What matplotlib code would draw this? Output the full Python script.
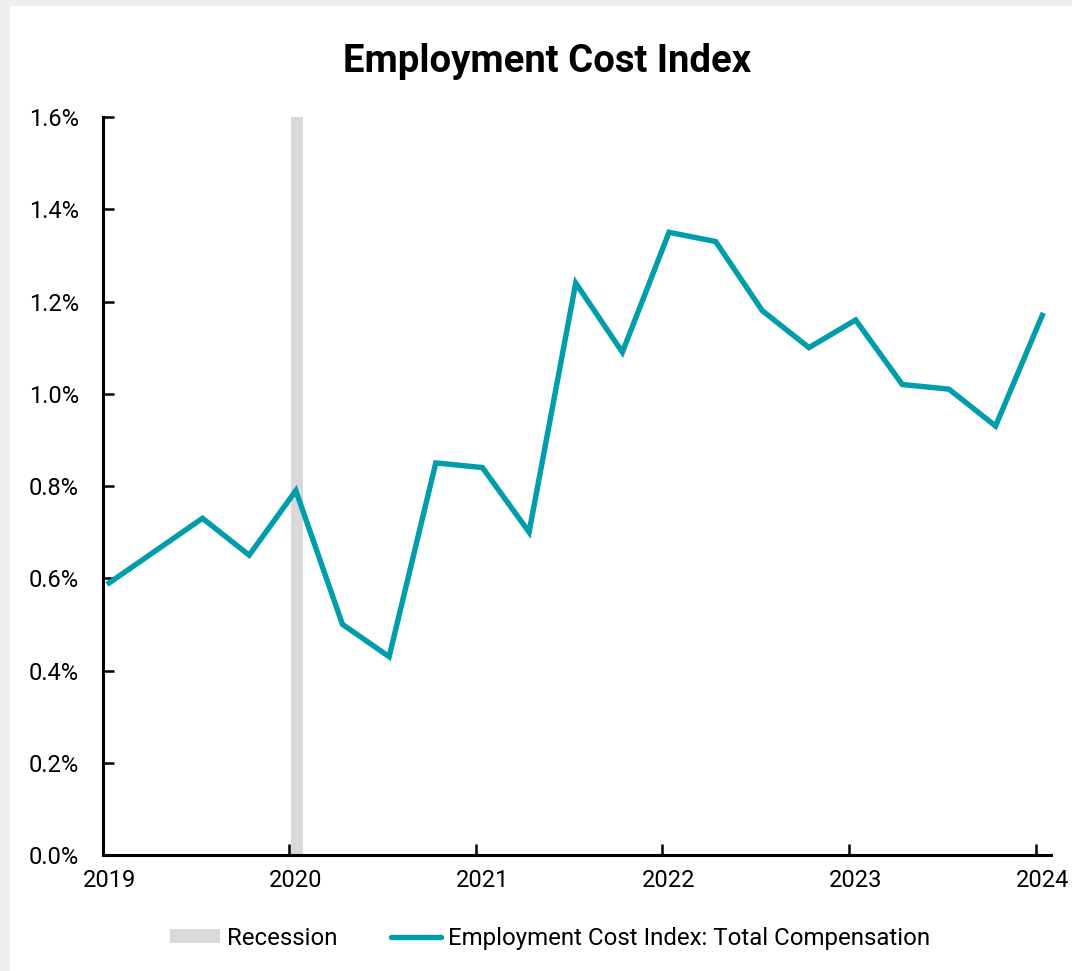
import matplotlib
matplotlib.use("Agg")
import matplotlib.pyplot as plt
from matplotlib.patches import Rectangle, Patch
from matplotlib.lines import Line2D
from matplotlib.ticker import FuncFormatter, FixedLocator

plt.rcParams['font.family'] = ['Roboto', 'DejaVu Sans']

# Quarterly ECI (total compensation), % change q/q, 2019Q1 .. 2024Q1
quarters = ["2019Q1", "2019Q2", "2019Q3", "2019Q4",
            "2020Q1", "2020Q2", "2020Q3", "2020Q4",
            "2021Q1", "2021Q2", "2021Q3", "2021Q4",
            "2022Q1", "2022Q2", "2022Q3", "2022Q4",
            "2023Q1", "2023Q2", "2023Q3", "2023Q4",
            "2024Q1"]
eci_values = [0.59, 0.66, 0.73, 0.65,
              0.79, 0.50, 0.43, 0.85,
              0.84, 0.70, 1.24, 1.09,
              1.35, 1.33, 1.18, 1.10,
              1.16, 1.02, 1.01, 0.93,
              1.17]
year_labels = ["2019", "2020", "2021", "2022", "2023", "2024"]
recession_start = 2020.009
recession_end = 2020.072

# positions in fractional years (data points dated mid-month of quarter start)
x_vals = [int(q[:4]) + (int(q[-1]) - 1) * 0.25 + 0.035 for q in quarters]
year_pos = [int(y) for y in year_labels]
label_pos = [int(y) + 0.035 for y in year_labels]

fig = plt.figure(figsize=(10.72, 9.71), dpi=100, facecolor='#efefef')
bg = Rectangle((10 / 1072, 0), 1 - 10 / 1072, 1 - 6 / 971,
               transform=fig.transFigure, facecolor='white',
               edgecolor='none', zorder=-10)
fig.add_artist(bg)

ax = fig.add_axes([102.7 / 1072, (971 - 855) / 971,
                   (1051 - 102.7) / 1072, (855 - 117) / 971])
ax.set_facecolor('none')
ax.set_zorder(2)

line_color = '#009DAA'
rec_color = '#D9D9D9'

ax.axvspan(recession_start, recession_end, color=rec_color, lw=0, zorder=1)
ax.plot(x_vals, eci_values, color=line_color, lw=3.9, zorder=3,
        solid_joinstyle='miter')

ax.set_xlim(2019.0, 2024.082)
ax.set_ylim(0, 1.6)

ax.yaxis.set_major_locator(FixedLocator([0, 0.2, 0.4, 0.6, 0.8, 1.0, 1.2, 1.4, 1.6]))
ax.yaxis.set_major_formatter(FuncFormatter(lambda v, p: f"{v:.1f}%"))

# tick marks at year starts, labels at data dates
ax.set_xticks(year_pos, minor=True)
ax.set_xticks(label_pos)
ax.set_xticklabels(year_labels)
ax.tick_params(axis='x', which='major', length=0, pad=10, labelsize=17)
ax.tick_params(axis='x', which='minor', direction='in', length=8, width=1.8)
ax.tick_params(axis='y', which='major', direction='in', length=8, width=1.8,
               labelsize=17, pad=17)

for s in ['top', 'right']:
    ax.spines[s].set_visible(False)
for s in ['left', 'bottom']:
    ax.spines[s].set_linewidth(2.2)

fig.text(547 / 1072, 1 - 62 / 971, "Employment Cost Index", ha='center',
         va='center', fontsize=27.5, fontweight='bold')

handles = [Patch(facecolor=rec_color, edgecolor='none', label='Recession'),
           Line2D([0], [0], color=line_color, lw=3.9, solid_capstyle='round',
                  label='Employment Cost Index: Total Compensation')]
fig.legend(handles=handles, loc='center', bbox_to_anchor=(550 / 1072, 1 - 938 / 971),
           ncol=2, frameon=False, fontsize=17.3, handlelength=2.1,
           handletextpad=0.3, columnspacing=2.2, handleheight=0.5)

fig.savefig("out.png", dpi=100, facecolor=fig.get_facecolor())
